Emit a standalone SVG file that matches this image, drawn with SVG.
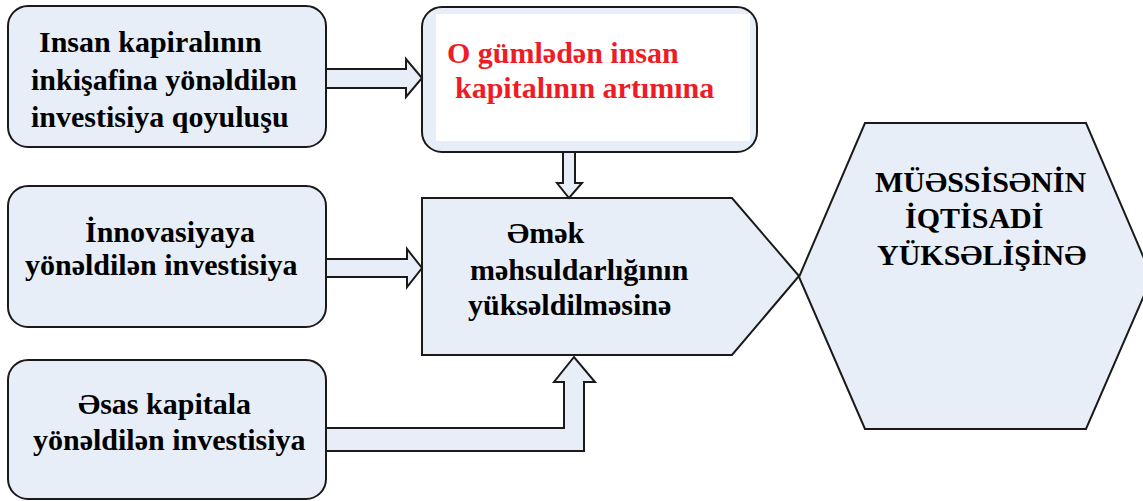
<svg xmlns="http://www.w3.org/2000/svg" width="1143" height="501" viewBox="0 0 1143 501">
  <style>
    .box { fill: #e8eef7; stroke: #1a1a1a; stroke-width: 2; }
    .arrow { fill: #e8eef7; stroke: #1a1a1a; stroke-width: 2; stroke-linejoin: miter; }
    .t { font-weight: bold; font-size: 30px; fill: #000; }
    .red { fill: #ee1c25; }
  </style>
  <rect width="1143" height="501" fill="#ffffff"/>
  <g font-family="Liberation Serif, DejaVu Serif, serif">
  <g id="node-insan">
    <rect class="box" x="8" y="6" width="318" height="141" rx="20" ry="20"/>
    <text class="t" x="39" y="52">Insan kapiralının</text>
    <text class="t" x="31" y="90">inkişafina yönəldilən</text>
    <text class="t" x="31" y="127">investisiya qoyuluşu</text>
  </g>
  <g id="node-gumleden">
    <rect class="box" x="422" y="7" width="335" height="145" rx="20" ry="20"/>
    <rect x="436" y="14" width="314" height="127" fill="#ffffff"/>
    <text class="t red" x="447" y="63">O gümlədən insan</text>
    <text class="t red" x="455" y="98">kapitalının artımına</text>
  </g>
  <g id="node-innovasiya">
    <rect class="box" x="8" y="186" width="318" height="141" rx="20" ry="20"/>
    <text class="t" x="85" y="242">İnnovasiyaya</text>
    <text class="t" x="25" y="275">yönəldilən investisiya</text>
  </g>
  <g id="node-esas">
    <rect class="box" x="8" y="360" width="318" height="139" rx="20" ry="20"/>
    <text class="t" x="78" y="414">Əsas kapitala</text>
    <text class="t" x="33" y="450">yönəldilən investisiya</text>
  </g>
  <g id="node-emek">
    <polygon class="box" points="422,198 732,198 799,276 732,355 422,355"/>
    <text class="t" x="507" y="243">Əmək</text>
    <text class="t" x="470" y="280">məhsuldarlığının</text>
    <text class="t" x="468" y="315">yüksəldilməsinə</text>
  </g>
  <g id="node-muessise">
    <polygon class="box" points="865,123 1086,123 1152,277 1086,429 865,429 799,277"/>
    <text class="t" x="875" y="192">MÜƏSSİSƏNİN</text>
    <text class="t" x="905" y="228">İQTİSADİ</text>
    <text class="t" x="877" y="265">YÜKSƏLİŞİNƏ</text>
  </g>
  </g>
  <g id="connectors">
    <path class="arrow" d="M326,69 L406,69 L406,59 L422,78 L406,97 L406,88 L326,88 Z"/>
    <path class="arrow" d="M326,259 L407,259 L407,249 L422,268 L407,287 L407,277 L326,277 Z"/>
    <path class="arrow" d="M563,152 L563,183 L557,183 L569,198 L582,183 L575,183 L575,152 Z"/>
    <path class="arrow" d="M326,428 L564,428 L564,382 L554,382 L574,357 L595,382 L584,382 L584,451 L326,451 Z"/>
  </g>
</svg>
